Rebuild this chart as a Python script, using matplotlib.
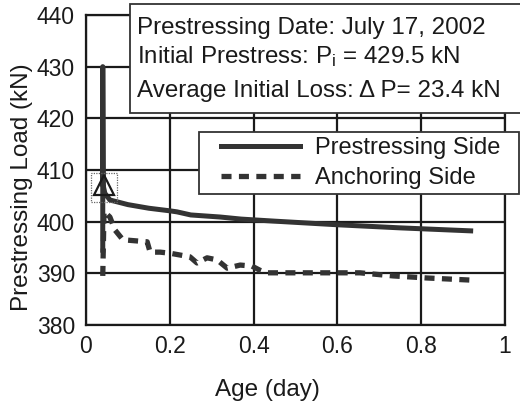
import matplotlib
matplotlib.use("Agg")
import matplotlib.pyplot as plt
from matplotlib.patches import Rectangle
from matplotlib.lines import Line2D

plt.rcParams['font.family'] = ['Liberation Sans', 'DejaVu Sans']
plt.rcParams['mathtext.fontset'] = 'custom'
plt.rcParams['mathtext.rm'] = 'Liberation Sans'
plt.rcParams['mathtext.it'] = 'Liberation Sans'

# ---- data ----
pre_age = [0.040, 0.040, 0.041, 0.045, 0.057, 0.10, 0.15, 0.20, 0.217, 0.25,
           0.32, 0.37, 0.45, 0.60, 0.75, 0.924]
pre_load = [394.0, 430.0, 407.0, 405.5, 404.2, 403.3, 402.6, 402.1, 401.9, 401.3,
            400.9, 400.5, 400.1, 399.4, 398.8, 398.2]

anc_age = [0.040, 0.043, 0.057, 0.069, 0.088, 0.146, 0.153, 0.177, 0.200, 0.248,
           0.265, 0.289, 0.313, 0.337, 0.368, 0.396, 0.415, 0.432, 0.654, 0.733,
           0.814, 0.916]
anc_load = [389.5, 402.0, 400.9, 398.4, 396.5, 396.1, 394.1, 394.1, 393.9, 393.2,
            392.0, 393.0, 392.6, 391.0, 391.6, 391.4, 390.6, 390.1, 390.1, 389.5,
            389.1, 388.7]

init_age = [0.043]
init_load = [407.0]

x_ticks = [0, 0.2, 0.4, 0.6, 0.8, 1]
x_ticklabels = ['0', '0.2', '0.4', '0.6', '0.8', '1']
y_ticks = [380, 390, 400, 410, 420, 430, 440]

series_labels = ['Prestressing Side', 'Anchoring Side']
info_lines = ['Prestressing Date: July 17, 2002',
              r'Initial Prestress: P$_\mathrm{i}$ = 429.5 kN',
              'Average Initial Loss: \u0394 P= 23.4 kN']

# ---- figure ----
W, H = 520, 405
fig = plt.figure(figsize=(W / 100, H / 100), dpi=100)
ax = fig.add_axes([86 / W, 1 - 325 / H, (505 - 86) / W, (325 - 15) / H])

col = '#1a1a1a'
dash = (1.9, 1.4)
ax.plot(pre_age, pre_load, color='#333333', lw=3.6, solid_capstyle='butt', zorder=4)
ax.plot(anc_age, anc_load, color='#333333', lw=3.8, dashes=dash, zorder=4)
ax.plot(init_age, init_load, marker='^', ms=15, mfc='none', mec=col, mew=1.6,
        ls='none', zorder=5)
ax.add_patch(Rectangle((init_age[0] - 0.03, init_load[0] - 3.2), 0.062, 5.6,
                       fill=False, ls=(0, (1, 1)), lw=0.9, ec='#666666', zorder=5))

ax.set_xlim(0, 1)
ax.set_ylim(380, 440)
ax.set_xticks(x_ticks)
ax.set_xticklabels(x_ticklabels)
ax.set_yticks(y_ticks)
ax.tick_params(length=0, labelsize=16.5, colors=col)
ax.tick_params(axis='y', pad=8)
ax.tick_params(axis='x', pad=7)
ax.grid(True, color=col, lw=1.6)
ax.set_axisbelow(True)
for s in ax.spines.values():
    s.set_linewidth(1.6)
    s.set_color(col)

ax.set_xlabel('Age (day)', fontsize=17.5, color=col, va='center')
ax.xaxis.set_label_coords(0.434, -0.21)
ax.set_ylabel('Prestressing Load (kN)', fontsize=17.5, color=col, va='center')
ax.yaxis.set_label_coords(-0.153, 0.445)

# info box
fig.patches.append(Rectangle((130 / W, 1 - 113 / H), (525 - 130) / W, (113 - 4) / H,
                             transform=fig.transFigure, fc='white', ec='#333333',
                             lw=1.3, zorder=6))
for txt, yp in zip(info_lines, [28, 57, 91]):
    fig.text(137 / W, 1 - yp / H, txt, fontsize=17.4, ha='left', va='center',
             color=col, zorder=7)

# legend
fig.patches.append(Rectangle((199 / W, 1 - 194 / H), (519 - 199) / W, (194 - 132) / H,
                             transform=fig.transFigure, fc='white', ec='#333333',
                             lw=1.3, zorder=6))
handles = [Line2D([], [], color='#333333', lw=3.6),
           Line2D([], [], color='#333333', lw=3.8, dashes=dash)]
leg = fig.legend(handles, series_labels, loc='center left',
                 bbox_to_anchor=(209 / W, 1 - 163 / H), frameon=False,
                 fontsize=17, borderpad=0, handlelength=3.35, handletextpad=0.65,
                 labelspacing=0.35)
leg.set_zorder(8)
for t in leg.get_texts():
    t.set_color(col)

fig.savefig('out.png', dpi=100)
